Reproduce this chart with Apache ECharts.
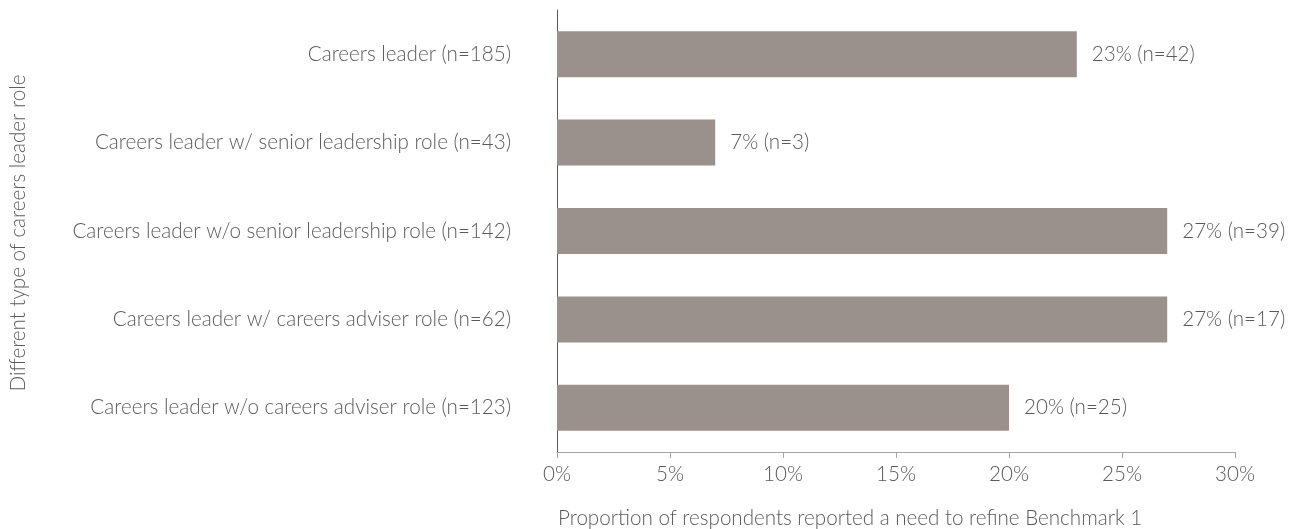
<!DOCTYPE html>
<html>
<head>
<meta charset="utf-8">
<script src="https://cdn.jsdelivr.net/npm/echarts@6/dist/echarts.min.js"></script>
<style>
  html, body { margin: 0; padding: 0; background: #ffffff; }
  #chart { width: 1294px; height: 529px; }
</style>
</head>
<body>
<div id="chart"></div>
<script>
// categories (top to bottom)
const categories = [
  'Careers leader (n=185)',
  'Careers leader w/ senior leadership role (n=43)',
  'Careers leader w/o senior leadership role (n=142)',
  'Careers leader w/ careers adviser role (n=62)',
  'Careers leader w/o careers adviser role (n=123)'
];
// percentage reporting a need to refine Benchmark 1
const percentValues = [23, 7, 27, 27, 20];
// number of respondents behind each percentage
const respondentCounts = [42, 3, 39, 17, 25];
const xTicks = [0, 5, 10, 15, 20, 25, 30];

const FONT = 'Lato';
const TEXT = '#5a5a5a';
const FS = 20.6;

const chart = echarts.init(document.getElementById('chart'));

const option = {
  animation: false,
  textStyle: { fontFamily: FONT },
  grid: { left: 557, right: 59, top: 10, bottom: 77, containLabel: false },
  xAxis: {
    type: 'value',
    min: xTicks[0],
    max: xTicks[xTicks.length - 1],
    interval: 5,
    splitLine: { show: false },
    axisLine: { show: true, lineStyle: { color: '#a6a6a6', width: 1 } },
    axisTick: { show: true, length: 6, lineStyle: { color: '#a6a6a6' } },
    axisLabel: {
      color: TEXT, fontSize: FS, fontWeight: 300, fontFamily: FONT, margin: 12,
      formatter: v => v + '%'
    }
  },
  yAxis: {
    type: 'category',
    inverse: true,
    data: categories,
    axisLine: { show: true, lineStyle: { color: '#595959', width: 1 } },
    axisTick: { show: false },
    axisLabel: { color: TEXT, fontSize: FS, fontWeight: 300, fontFamily: FONT, margin: 46 }
  },
  series: [{
    type: 'bar',
    data: percentValues,
    barWidth: 46,
    itemStyle: { color: '#9a918d' },
    label: {
      show: true,
      position: 'right',
      distance: 15,
      color: TEXT,
      fontSize: FS,
      fontWeight: 300,
      fontFamily: FONT,
      formatter: p => p.value + '% (n=' + respondentCounts[p.dataIndex] + ')'
    }
  }],
  graphic: [
    {
      type: 'text',
      left: 558,
      top: 508,
      style: { text: 'Proportion of respondents reported a need to refine Benchmark 1', fill: TEXT, font: '300 ' + FS + 'px ' + FONT }
    },
    {
      type: 'text',
      x: 18,
      y: 233,
      rotation: Math.PI / 2,
      style: {
        text: 'Different type of careers leader role', fill: TEXT, font: '300 ' + FS + 'px ' + FONT,
        align: 'center', verticalAlign: 'middle'
      }
    }
  ]
};

chart.setOption(option);
</script>
</body>
</html>
